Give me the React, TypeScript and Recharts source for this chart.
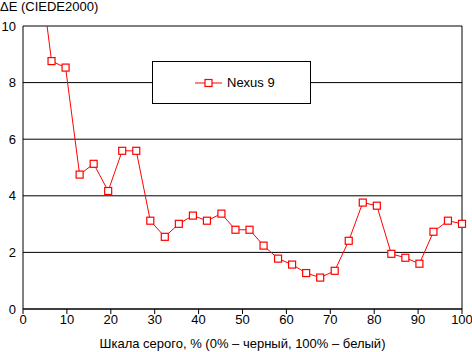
import {
  LineChart,
  Line,
  CartesianGrid,
  XAxis,
  YAxis,
  ReferenceLine,
} from "recharts";

const GRAY_LEVELS = [
  3.2, 6.5, 9.7, 12.9, 16.1, 19.4, 22.6, 25.8, 29.0, 32.3, 35.5, 38.7, 41.9,
  45.2, 48.4, 51.6, 54.8, 58.1, 61.3, 64.5, 67.7, 71.0, 74.2, 77.4, 80.6,
  83.9, 87.1, 90.3, 93.5, 96.8, 100,
];

const NEXUS9_DE = [
  12.8, 8.76, 8.53, 4.75, 5.13, 4.17, 5.59, 5.59, 3.12, 2.55, 3.01, 3.3, 3.12,
  3.37, 2.8, 2.8, 2.24, 1.78, 1.57, 1.27, 1.11, 1.35, 2.41, 3.76, 3.65, 1.95,
  1.81, 1.6, 2.73, 3.12, 3.01,
];

const X_TICKS = [0, 10, 20, 30, 40, 50, 60, 70, 80, 90, 100];
const Y_TICKS = [0, 2, 4, 6, 8, 10];

const RED = "#ff0000";
const FONT = "'Liberation Sans', Arial, sans-serif";

const data = GRAY_LEVELS.map((x, i) => ({ x, value: NEXUS9_DE[i] }));

function SquareDot(props: any) {
  const { cx, cy } = props;
  if (cx == null || cy == null) return null;
  return (
    <rect
      x={cx - 3.5}
      y={cy - 3.5}
      width={7}
      height={7}
      fill="#fff"
      stroke={RED}
      strokeWidth={1.2}
    />
  );
}

// legend sits over the 8-gridline, so it is drawn as an overlay box
function LegendBox() {
  return (
    <div
      style={{
        position: "absolute",
        left: 152,
        top: 61,
        width: 159,
        height: 43,
        boxSizing: "border-box",
        border: "1px solid #000",
        background: "#fff",
        display: "flex",
        alignItems: "center",
        paddingLeft: 41,
        fontFamily: FONT,
        fontSize: 13,
        color: "#000",
      }}
    >
      <svg width={30} height={10} style={{ marginRight: 3 }}>
        <line x1={1} y1={5} x2={28} y2={5} stroke={RED} strokeWidth={1} />
        <rect x={11} y={1.5} width={7} height={7} fill="#fff" stroke={RED} strokeWidth={1.2} />
      </svg>
      <span>Nexus 9</span>
    </div>
  );
}

export default function App() {
  return (
    <div
      style={{
        position: "absolute",
        left: 0,
        top: 0,
        width: 472,
        height: 352,
        background: "#fff",
        fontFamily: FONT,
      }}
    >
      <LineChart
        width={472}
        height={352}
        data={data}
        margin={{ top: 26, right: 10, bottom: 0, left: 0 }}
      >
        <CartesianGrid vertical={false} stroke="#000" strokeDasharray="" />
        <XAxis
          dataKey="x"
          type="number"
          domain={[0, 100]}
          ticks={X_TICKS}
          interval={0}
          height={43}
          tickSize={5}
          tickMargin={1}
          stroke="#000"
          tick={{ fill: "#000", fontSize: 13, fontFamily: FONT }}
          label={{
            value: "Шкала серого, % (0% – черный, 100% – белый)",
            position: "insideBottom",
            offset: 4,
            fill: "#000",
            fontSize: 13,
            fontFamily: FONT,
          }}
        />
        <YAxis
          type="number"
          domain={[0, 10]}
          ticks={Y_TICKS}
          allowDataOverflow
          width={23}
          tickLine={false}
          tickMargin={1}
          stroke="#000"
          tick={{ fill: "#000", fontSize: 13, fontFamily: FONT }}
        />
        <ReferenceLine x={100} stroke="#000" />
        <Line
          type="linear"
          dataKey="value"
          stroke={RED}
          strokeWidth={1}
          dot={<SquareDot />}
          activeDot={false}
          isAnimationActive={false}
        />
      </LineChart>
      <div
        style={{
          position: "absolute",
          left: 0,
          top: 0,
          fontSize: 13,
          lineHeight: "14px",
          color: "#000",
          whiteSpace: "nowrap",
        }}
      >
        ΔE (CIEDE2000)
      </div>
      <LegendBox />
    </div>
  );
}
